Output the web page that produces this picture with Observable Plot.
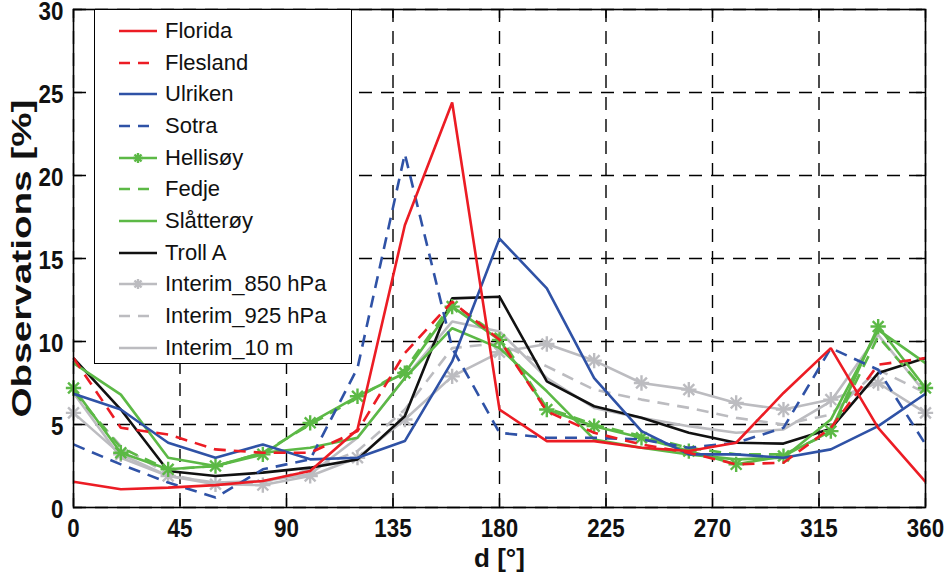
<!DOCTYPE html>
<html><head><meta charset="utf-8">
<script src="https://cdn.jsdelivr.net/npm/d3@7"></script>
<script src="https://cdn.jsdelivr.net/npm/@observablehq/plot@0.6"></script>
<style>
body{margin:0;background:#fff;}
#wrap{position:relative;width:946px;height:575px;overflow:hidden;background:#fff;}
#legend{position:absolute;left:94px;top:9px;width:256px;height:353px;border:1.6px solid #000;background:#fff;}
.row{position:absolute;left:0;height:30px;display:flex;align-items:center;font-family:"Liberation Sans",Arial,sans-serif;font-size:22px;color:#111;}
.row svg{margin-left:24px;margin-right:8px;}
</style></head><body><div id="wrap"></div>
<script>
const angles = [0,20,40,60,80,100,120,140,160,180,200,220,240,260,280,300,320,340,360];
const xTicks = [0,45,90,135,180,225,270,315,360];
const yTicks = [0,5,10,15,20,25,30];
const florida   = [1.55,1.1,1.2,1.35,1.6,2.2,4.7,17.0,24.4,5.9,4.0,4.0,3.6,3.4,3.9,6.9,9.6,4.8,1.55];
const flesland  = [9.0,4.8,4.4,3.5,3.3,3.3,4.6,9.3,12.4,10.1,5.8,4.5,3.8,3.3,2.6,2.7,4.8,8.6,9.0];
const ulriken   = [6.85,5.9,3.9,3.0,3.8,2.9,3.0,4.0,8.8,16.2,13.2,7.8,4.6,3.2,3.2,3.0,3.5,4.9,6.85];
const sotra     = [3.8,2.6,1.5,0.6,2.3,2.9,8.4,21.3,9.6,4.5,4.2,4.2,4.1,3.6,3.9,4.8,9.6,8.3,3.8];
const hellisoy  = [7.2,3.3,2.3,2.5,3.2,5.1,6.7,8.1,12.1,10.1,5.9,4.9,4.2,3.4,2.6,3.1,4.6,10.9,7.2];
const fedje     = [7.0,3.6,2.3,2.5,3.3,5.0,6.6,8.3,12.3,10.3,6.0,5.0,4.3,3.6,3.2,3.2,4.5,10.3,7.0];
const slatteroy = [8.7,6.8,3.0,2.5,3.3,3.6,4.2,7.8,10.8,9.6,7.0,4.1,3.6,3.2,2.9,3.0,5.3,10.7,8.7];
const trollA    = [9.0,5.9,2.2,1.9,2.1,2.4,2.9,5.5,12.6,12.7,7.6,6.1,5.4,4.5,3.9,3.85,4.75,8.1,9.0];
const int850    = [5.7,3.2,1.9,1.4,1.35,1.9,3.0,5.3,7.9,9.35,9.85,8.85,7.5,7.1,6.3,5.9,6.5,7.5,5.7];
const int925    = [6.9,3.7,2.0,1.4,1.5,2.3,3.4,5.9,9.6,9.9,8.5,7.1,6.5,6.0,5.4,5.0,5.6,8.3,6.9];
const int10m    = [6.9,3.0,1.9,1.5,1.6,2.0,4.2,7.8,11.2,10.6,7.8,6.0,5.4,4.9,4.5,4.7,6.4,10.4,6.9];
const yTitle = "Observations [%]";
const xTitle = "d [°]";

const RED="#ec1c24", BLUE="#2f52a6", GREEN="#5cb946", BLACK="#111111", GRAY="#bcbcc0";
const DASH="12,8";
const series = [
  {name:"Florida", v:florida, c:RED, d:null, m:false},
  {name:"Flesland", v:flesland, c:RED, d:DASH, m:false},
  {name:"Ulriken", v:ulriken, c:BLUE, d:null, m:false},
  {name:"Sotra", v:sotra, c:BLUE, d:DASH, m:false},
  {name:"Hellisøy", v:hellisoy, c:GREEN, d:null, m:true},
  {name:"Fedje", v:fedje, c:GREEN, d:DASH, m:false},
  {name:"Slåtterøy", v:slatteroy, c:GREEN, d:null, m:false},
  {name:"Troll A", v:trollA, c:BLACK, d:null, m:false},
  {name:"Interim_850 hPa", v:int850, c:GRAY, d:null, m:true},
  {name:"Interim_925 hPa", v:int925, c:GRAY, d:DASH, m:false},
  {name:"Interim_10 m", v:int10m, c:GRAY, d:null, m:false}
];

const drawOrder = [...series].reverse();
const lineMarks = [];
for (const s of drawOrder) {
  const data = angles.map((a,i)=>({a, v:s.v[i]}));
  lineMarks.push(Plot.line(data, {x:"a", y:"v", stroke:s.c, strokeWidth:2.6, strokeDasharray:s.d||undefined, strokeLinejoin:"miter", strokeLinecap:"butt"}));
  if (s.m) {
    lineMarks.push(Plot.dot(data, {x:"a", y:"v", symbol:"plus", r:5, stroke:s.c, strokeWidth:2.4}));
    lineMarks.push(Plot.dot(data, {x:"a", y:"v", symbol:"times", r:5, stroke:s.c, strokeWidth:2.4}));
  }
}

const FONT = "'Liberation Sans',Arial,sans-serif";
const GRID = {stroke:"#000", strokeOpacity:1, strokeWidth:1.4, strokeDasharray:"13,9"};
const TICK = {stroke:"#000", strokeWidth:1.4};
const chart = Plot.plot({
  width:946, height:575,
  marginLeft:73, marginRight:21, marginTop:9, marginBottom:68,
  x:{domain:[0,360]},
  y:{domain:[0,30]},
  style:{fontFamily:FONT, background:"#fff", color:"#111"},
  marks:[
    Plot.gridX(xTicks, GRID),
    Plot.gridY(yTicks, GRID),
    Plot.tickX(xTicks, {x:d=>d, ...TICK, insetTop:489}),
    Plot.tickX(xTicks, {x:d=>d, ...TICK, insetBottom:489}),
    Plot.tickY(yTicks, {y:d=>d, ...TICK, insetRight:843}),
    Plot.tickY(yTicks, {y:d=>d, ...TICK, insetLeft:843}),
    ...lineMarks,
    Plot.frame({stroke:"#000", strokeWidth:1.6}),
    Plot.axisX(xTicks, {tickSize:0, tickPadding:11, fontSize:26, fontWeight:"bold", label:null}),
    Plot.axisY(yTicks, {tickSize:0, tickPadding:10, fontSize:26, fontWeight:"bold", label:null, dy:2}),
    Plot.text([yTitle], {frameAnchor:"left", dx:-51, rotate:-90, textAnchor:"middle", lineAnchor:"middle", fontSize:28, fontWeight:"bold"}),
    Plot.text([xTitle], {frameAnchor:"bottom", dy:51, textAnchor:"middle", lineAnchor:"middle", fontSize:26, fontWeight:"bold"})
  ]
});
const wrap = document.getElementById("wrap");
wrap.appendChild(chart);

// condense tick labels (reference uses a narrow bold face); stretch the y title to its length
chart.querySelectorAll("text").forEach(t => {
  const s = t.textContent.trim();
  if (/^\d+$/.test(s)) {
    const w = t.getComputedTextLength();
    if (w > 0) { t.setAttribute("textLength", (w*0.86).toFixed(1)); t.setAttribute("lengthAdjust", "spacingAndGlyphs"); }
  } else if (s === yTitle) {
    t.setAttribute("textLength", "318");
    t.setAttribute("lengthAdjust", "spacingAndGlyphs");
  }
});

// Legend
const leg = document.createElement("div");
leg.id = "legend";
series.forEach((s,i)=>{
  const row = document.createElement("div");
  row.className = "row";
  row.style.top = (6 + i*31.67) + "px";
  const svg = d3.create("svg").attr("width",38).attr("height",14);
  svg.append("line").attr("x1",0).attr("x2",38).attr("y1",7).attr("y2",7)
    .attr("stroke",s.c).attr("stroke-width",2.6).attr("stroke-dasharray",s.d?"11,8":null);
  if (s.m) {
    svg.append("path").attr("d","M19,2V12M14,7H24M15.5,3.5L22.5,10.5M22.5,3.5L15.5,10.5")
      .attr("stroke",s.c).attr("stroke-width",2.4).attr("fill","none");
  }
  row.appendChild(svg.node());
  const t = document.createElement("span");
  t.textContent = s.name;
  row.appendChild(t);
  leg.appendChild(row);
});
wrap.appendChild(leg);
</script>
</body></html>
